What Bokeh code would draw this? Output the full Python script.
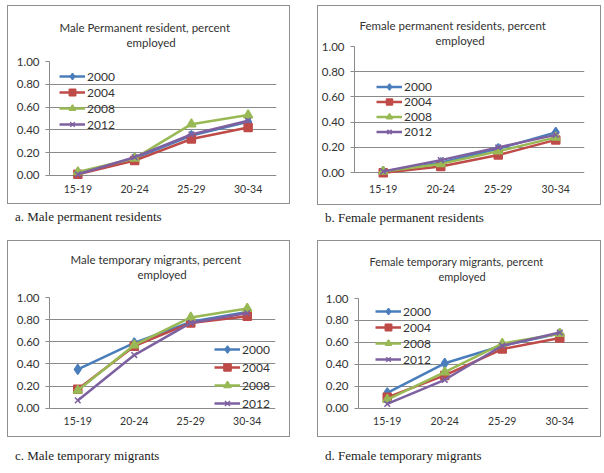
from bokeh.plotting import figure
from bokeh.models import (Range1d, FactorRange, FixedTicker, NumeralTickFormatter,
                          Legend, LegendItem, Title, Div, ColumnDataSource, Spacer)
from bokeh.layouts import row, column
from bokeh.embed import file_html
from bokeh.resources import INLINE

# ---------------- data ----------------
age_groups = ["15-19", "20-24", "25-29", "30-34"]
years = ["2000", "2004", "2008", "2012"]
y_ticks = [0.0, 0.2, 0.4, 0.6, 0.8, 1.0]

male_perm_2000 = [0.02, 0.15, 0.35, 0.47]
male_perm_2004 = [0.01, 0.13, 0.32, 0.42]
male_perm_2008 = [0.03, 0.15, 0.45, 0.53]
male_perm_2012 = [0.01, 0.16, 0.36, 0.48]

female_perm_2000 = [0.01, 0.08, 0.19, 0.32]
female_perm_2004 = [0.00, 0.05, 0.14, 0.26]
female_perm_2008 = [0.01, 0.07, 0.17, 0.28]
female_perm_2012 = [0.01, 0.10, 0.20, 0.30]

male_temp_2000 = [0.35, 0.59, 0.78, 0.87]
male_temp_2004 = [0.17, 0.56, 0.77, 0.83]
male_temp_2008 = [0.16, 0.57, 0.82, 0.90]
male_temp_2012 = [0.07, 0.48, 0.77, 0.86]

female_temp_2000 = [0.14, 0.41, 0.57, 0.68]
female_temp_2004 = [0.10, 0.30, 0.54, 0.64]
female_temp_2008 = [0.08, 0.33, 0.59, 0.68]
female_temp_2012 = [0.04, 0.26, 0.57, 0.69]

titles = [
    ["Male Permanent resident, percent", "employed"],
    ["Female permanent residents, percent", "employed"],
    ["Male temporary migrants, percent", "employed"],
    ["Female temporary migrants, percent", "employed"],
]
captions = [
    "a. Male permanent residents",
    "b. Female permanent residents",
    "c. Male temporary migrants",
    "d. Female temporary migrants",
]

# ---------------- style ----------------
colors = ["#4A7EBB", "#BE4B48", "#98B954", "#7D60A0"]
markers = ["diamond", "square", "triangle", "x"]
msizes = [10, 8, 9, 8]
FONT = "Lato"
GRAY = "#8a8a8a"
Y_LOW = -0.22   # room below the 0 line for the category labels


def make_panel(title_lines, series, fl, fw, fr, ft, fh, fb, tfs, off1, off2, gap,
               xstand, leg_x, leg_y, leg_h, leg_s):
    p = figure(frame_width=fw, frame_height=fh, x_range=FactorRange(*age_groups),
               y_range=Range1d(Y_LOW, 1.0), output_backend="svg",
               toolbar_location=None, min_border_left=fl, min_border_right=fr,
               min_border_top=ft, min_border_bottom=fb, outline_line_color=None,
               background_fill_color="white", border_fill_color="white",
               styles={"border": "1.5px solid #8f8f8f", "box-sizing": "border-box"})
    p.xaxis.fixed_location = 0
    p.xaxis.axis_line_color = None
    p.xaxis.major_tick_line_color = None
    p.xaxis.major_tick_out = 0
    p.xaxis.major_tick_in = 0
    p.xaxis.minor_tick_line_color = None
    p.xaxis.major_label_standoff = xstand
    p.xaxis.major_label_text_font = FONT
    p.xaxis.major_label_text_font_size = "10.5px"
    p.xaxis.major_label_text_color = "#333333"

    p.yaxis.ticker = FixedTicker(ticks=y_ticks)
    p.yaxis.formatter = NumeralTickFormatter(format="0.00")
    p.yaxis.axis_line_color = GRAY
    p.yaxis.major_tick_line_color = GRAY
    p.yaxis.major_tick_out = 4
    p.yaxis.major_tick_in = 0
    p.yaxis.minor_tick_line_color = None
    p.yaxis.bounds = (0, 1)
    p.yaxis.major_label_standoff = 6
    p.yaxis.major_label_text_font = FONT
    p.yaxis.major_label_text_font_size = "11.5px"
    p.yaxis.major_label_text_color = "#333333"

    p.xgrid.grid_line_color = None
    p.ygrid.grid_line_color = GRAY
    p.ygrid.grid_line_width = 1

    items = []
    for yr, vals, c, m, ms in zip(years, series, colors, markers, msizes):
        src = ColumnDataSource(dict(x=age_groups, y=vals))
        ln = p.line("x", "y", source=src, line_color=c, line_width=2.5)
        sc = p.scatter("x", "y", source=src, marker=m, size=ms, fill_color=c,
                       line_color=c, line_width=1.5)
        items.append(LegendItem(label=yr, renderers=[ln, sc]))

    leg = Legend(items=items, location=(leg_x, leg_y), padding=0, margin=0,
                 spacing=leg_s, glyph_height=leg_h, label_height=leg_h,
                 glyph_width=26, label_standoff=2, border_line_color=None,
                 background_fill_alpha=0, label_text_font=FONT,
                 label_text_font_size="12px", label_text_color="#333333")
    p.add_layout(leg)

    if gap > 0:
        p.add_layout(Title(text=" ", text_font_size="1px", standoff=gap), "above")
    p.add_layout(Title(text=title_lines[1], align="left", offset=off2, standoff=0,
                       text_font=FONT, text_font_size=tfs,
                       text_font_style="normal", text_color="#333333"), "above")
    p.add_layout(Title(text=title_lines[0], align="left", offset=off1, standoff=0,
                       text_font=FONT, text_font_size=tfs,
                       text_font_style="normal", text_color="#333333"), "above")
    return p


def caption(text, w, h, pad_top, pad_left):
    html = ('<div style="font-family:\'Liberation Serif\';font-size:13px;'
            'color:#222;line-height:15px;padding-top:%dpx;padding-left:%dpx;'
            'white-space:nowrap">%s</div>' % (pad_top, pad_left, text))
    return Div(text=html, width=w, height=h, styles={"overflow": "hidden"})


# legend y offsets are measured from the frame bottom (frame ends 0.22 below 0)
pA = make_panel(titles[0], [male_perm_2000, male_perm_2004, male_perm_2008, male_perm_2012],
                41, 225, 15, 55, 137, 5, "11.5px", 10, 77, 10, 10, 10, 68, 16, 0)
pB = make_panel(titles[1], [female_perm_2000, female_perm_2004, female_perm_2008, female_perm_2012],
                36, 228, 18, 40, 152, 6, "11.5px", 5, 81, 0, 12, 22, 61, 15, 0)
pC = make_panel(titles[2], [male_temp_2000, male_temp_2004, male_temp_2008, male_temp_2012],
                41, 224, 16, 56, 133, 6, "11.5px", 21, 88, 14, 9, 165, 20, 18, 0)
pD = make_panel(titles[3], [female_temp_2000, female_temp_2004, female_temp_2008, female_temp_2012],
                40, 228, 14, 57, 132, 6, "11px", 11, 80, 13, 9, 17, 65, 16, 0)

capA = caption(captions[0], 281, 25, 0, 3)
capB = caption(captions[1], 282, 25, 0, 3)
capC = caption(captions[2], 281, 24, 6, 3)
capD = caption(captions[3], 282, 24, 6, 3)

layout = column(
    Spacer(height=5),
    row(Spacer(width=7), column(pA, capA), Spacer(width=19), column(pB, capB)),
    row(Spacer(width=7), column(pC, capC), Spacer(width=19), column(pD, capD)),
)

open("out.html", "w").write(file_html(layout, INLINE))
